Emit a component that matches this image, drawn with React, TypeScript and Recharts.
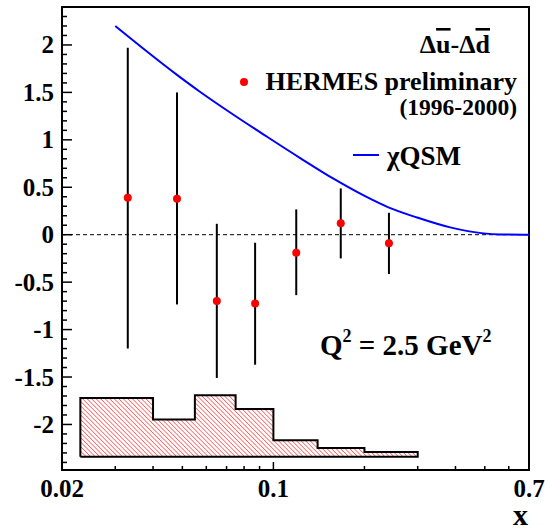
import {
  ComposedChart,
  Line,
  Area,
  Scatter,
  ErrorBar,
  XAxis,
  YAxis,
  ReferenceLine,
  ReferenceArea,
} from "recharts"

const W = 545
const H = 531
const X_DOMAIN = [0.02, 0.7]
const Y_DOMAIN = [-2.48, 2.4]
const FONT = "Liberation Serif, Times New Roman, Times, serif"

// HERMES preliminary points
const hermesX = [0.033, 0.048, 0.065, 0.087, 0.119, 0.167, 0.241]
const hermesY = [0.39, 0.38, -0.7, -0.725, -0.19, 0.12, -0.09]
const hermesHi = [1.97, 1.5, 0.115, -0.085, 0.267, 0.488, 0.231]
const hermesLo = [-1.2, -0.735, -1.51, -1.37, -0.637, -0.25, -0.415]

// chiQSM curve
const qsmX = [0.03, 0.048, 0.057, 0.074, 0.095, 0.123, 0.158, 0.204, 0.24, 0.298, 0.384, 0.495, 0.562, 0.7]
const qsmY = [2.2, 1.685, 1.51, 1.262, 1.035, 0.805, 0.59, 0.395, 0.288, 0.182, 0.077, 0.014, 0.003, 0]

// systematic band (histogram)
const sysEdges = [0.023, 0.04, 0.055, 0.075, 0.1, 0.14, 0.2, 0.3]
const sysTops = [-1.72, -1.948, -1.691, -1.836, -2.166, -2.247, -2.289]
const sysBase = -2.34

const xTicks = [0.02, 0.03, 0.04, 0.05, 0.06, 0.07, 0.08, 0.09, 0.1, 0.2, 0.3, 0.4, 0.5, 0.6, 0.7]
const xLabels = [0.02, 0.1, 0.7]
const yTicks = Array.from({ length: 49 }, (_, i) => (i - 24) / 10)

const hermesData = hermesX.map((x, i) => ({
  x,
  y: hermesY[i],
  err: [hermesY[i] - hermesLo[i], hermesHi[i] - hermesY[i]],
}))
const qsmData = qsmX.map((x, i) => ({ x, y: qsmY[i] }))
const sysArea = sysEdges.map((x, i) => ({ x, y: sysTops[Math.min(i, sysTops.length - 1)] }))
const sysOutline = [
  { x: sysEdges[0], y: sysBase },
  ...sysArea,
  { x: sysEdges[sysEdges.length - 1], y: sysBase },
  { x: sysEdges[0], y: sysBase },
]

const labelStyle = { fontFamily: FONT, fontWeight: 700, fill: "#000" }

function YTick(props: any) {
  const { x, y, payload } = props
  const v = Math.round(payload.value * 10) / 10
  const major = Math.abs(v * 2 - Math.round(v * 2)) < 1e-6
  return (
    <g>
      <line x1={x} x2={x + (major ? 10 : 5)} y1={y} y2={y} stroke="#000" strokeWidth={1.5} />
      {major && (
        <text x={x - 8} y={y + 8.5} textAnchor="end" fontSize={25} fontFamily={FONT} style={labelStyle}>
          {String(v)}
        </text>
      )}
    </g>
  )
}

function XTick(props: any) {
  const { x, y, payload } = props
  const v = payload.value
  const major = v === 0.1
  return (
    <g>
      <line x1={x} x2={x} y1={y} y2={y - (major ? 8 : 4)} stroke="#000" strokeWidth={1.5} />
      {xLabels.includes(v) && (
        <text x={x} y={y + 27} textAnchor="middle" fontSize={25} fontFamily={FONT} style={labelStyle}>
          {String(v)}
        </text>
      )}
    </g>
  )
}

const Dot = (props: any) => <circle cx={props.cx} cy={props.cy} r={4} fill="#ff0000" />

export default function App() {
  return (
    <div style={{ position: "absolute", left: 0, top: 0, width: W, height: H, background: "#fff" }}>
      <svg width={0} height={0} style={{ position: "absolute" }}>
        <defs>
          <pattern id="hatch" patternUnits="userSpaceOnUse" width={3.2} height={3.2} patternTransform="rotate(-45)">
            <line x1={0} y1={0} x2={0} y2={3.2} stroke="#ff0000" strokeWidth={1} />
          </pattern>
        </defs>
      </svg>
      <ComposedChart width={W} height={H} margin={{ top: 7, right: 16, bottom: 0, left: 0 }}>
        <XAxis
          dataKey="x"
          type="number"
          scale="log"
          domain={X_DOMAIN}
          ticks={xTicks}
          interval={0}
          tick={XTick}
          tickSize={0}
          tickMargin={0}
          tickLine={false}
          axisLine={false}
          height={61}
          allowDataOverflow
        />
        <YAxis
          type="number"
          domain={Y_DOMAIN}
          ticks={yTicks}
          interval={0}
          tick={YTick}
          tickSize={0}
          tickMargin={0}
          tickLine={false}
          axisLine={false}
          width={62}
          allowDataOverflow
        />
        <Area
          data={sysArea}
          dataKey="y"
          type="stepAfter"
          baseValue={sysBase}
          fill="url(#hatch)"
          fillOpacity={1}
          stroke="none"
          isAnimationActive={false}
        />
        <Line
          data={sysOutline}
          dataKey="y"
          type="stepAfter"
          stroke="#000"
          strokeWidth={2}
          dot={false}
          isAnimationActive={false}
        />
        <ReferenceLine y={0} stroke="#000" strokeWidth={1} strokeDasharray="4 3" />
        <Line
          data={qsmData}
          dataKey="y"
          type="monotone"
          stroke="#0000ff"
          strokeWidth={2}
          dot={false}
          isAnimationActive={false}
        />
        <Scatter data={hermesData} dataKey="y" shape={Dot} isAnimationActive={false}>
          <ErrorBar dataKey="err" direction="y" width={0} stroke="#000" strokeWidth={2} isAnimationActive={false} />
        </Scatter>
        <ReferenceArea
          x1={X_DOMAIN[0]}
          x2={X_DOMAIN[1]}
          y1={Y_DOMAIN[0]}
          y2={Y_DOMAIN[1]}
          fill="none"
          fillOpacity={0}
          stroke="#000"
          strokeWidth={2}
        />
      </ComposedChart>
      <svg
        width={W}
        height={H}
        fontFamily={FONT}
        style={{ position: "absolute", left: 0, top: 0, pointerEvents: "none" }}
      >
        <text x={490} y={53} textAnchor="end" fontSize={26} style={labelStyle}>
          Δ<tspan textDecoration="overline">u</tspan>-Δ<tspan textDecoration="overline">d</tspan>
        </text>
        <circle cx={244} cy={82} r={4} fill="#ff0000" />
        <text x={517} y={90} textAnchor="end" fontSize={26} style={labelStyle}>
          HERMES preliminary
        </text>
        <text x={517} y={115} textAnchor="end" fontSize={23.5} style={labelStyle}>
          (1996-2000)
        </text>
        <line x1={353} x2={379} y1={155} y2={155} stroke="#0000ff" strokeWidth={2} />
        <text x={387} y={165} fontSize={27} style={labelStyle}>
          χQSM
        </text>
        <text x={320} y={355} fontSize={29} style={labelStyle}>
          Q<tspan dy={-13} fontSize={18}>2</tspan>
          <tspan dy={13}> = 2.5 GeV</tspan>
          <tspan dy={-13} fontSize={18}>2</tspan>
        </text>
        <text x={528} y={525} textAnchor="end" fontSize={30} style={labelStyle}>
          x
        </text>
      </svg>
    </div>
  )
}
